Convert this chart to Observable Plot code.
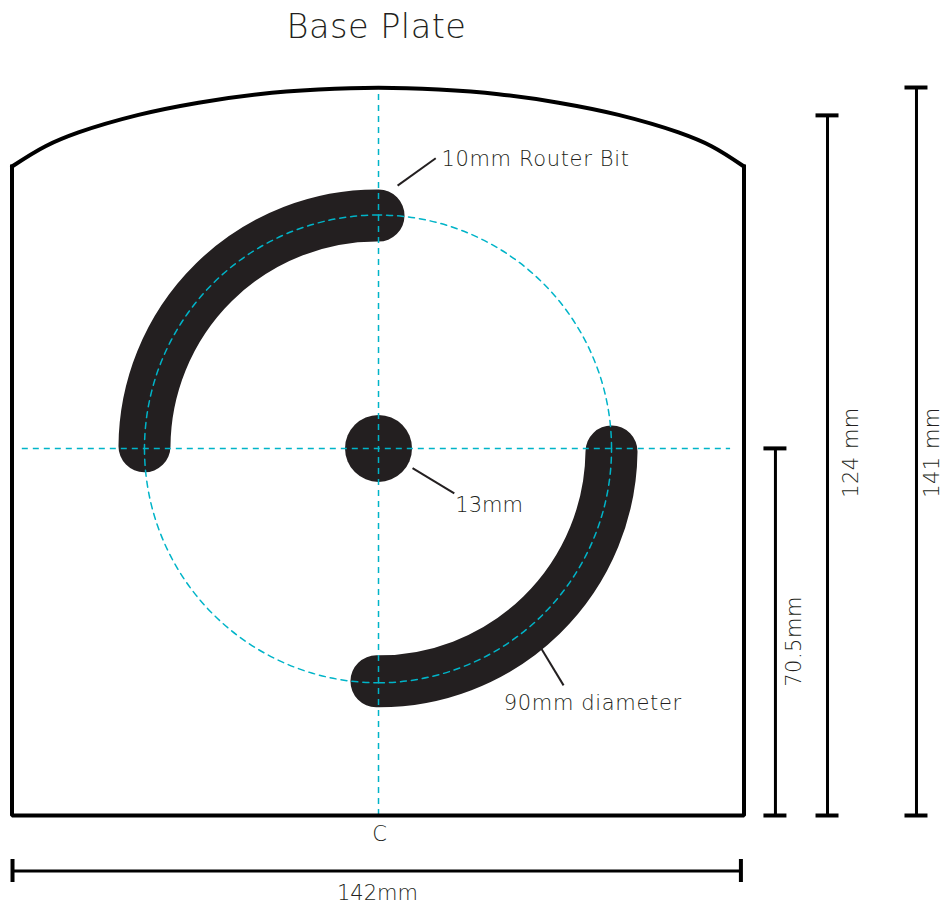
<!DOCTYPE html>
<html><head><meta charset="utf-8">
<script src="https://cdn.jsdelivr.net/npm/d3@7"></script>
<script src="https://cdn.jsdelivr.net/npm/@observablehq/plot@0.6"></script>
<style>html,body{margin:0;padding:0;background:#fff}svg{display:block}
.wide text{letter-spacing:.65px}.side text{letter-spacing:.5px}.head text{letter-spacing:.5px}</style>
</head><body><div id="chart"></div>
<script>
// All positions are millimetres on the drawing.
const crownX = [0, 6.5, 12.9, 24.54, 36.18, 47.82, 59.46, 71.1, 82.74, 94.38, 106.02, 117.66, 129.3, 135.7, 142];
const crownY = [125.7, 129.63, 132.3, 135.7, 138.06, 139.7, 140.6, 140.95, 140.6, 139.7, 138.06, 135.7, 132.3, 129.63, 125.7];
const wallX = [0, 0, 142, 142];
const wallY = [125.7, 0, 0, 125.7];

const centreX = [71.1];
const centreY = [71.1];

// Guide circle: quarter arcs between the four cardinal points.
const guideX1 = [116.3, 71.1, 25.7, 71.1];
const guideY1 = [71.1, 116.3, 71.1, 25.7];
const guideX2 = [71.1, 25.7, 71.1, 116.3];
const guideY2 = [116.3, 71.1, 25.7, 71.1];

// Router slots: start and end of each 90-degree arc.
const slotX1 = [71.1, 70.7];
const slotY1 = [116.2, 26.0];
const slotX2 = [25.7, 116.3];
const slotY2 = [71.5, 70.5];

const dimVerticalX = [175.46, 158.2, 148.1];
const dimVerticalTop = [141, 135.6, 71.1];
const capHalf = 2.23;
const dimHorizontalY = -10.75;
const dimHorizontalX = [0.1, 141.4];

const leaderX1 = [74.8, 77.7, 102.7];
const leaderY1 = [122.0, 67.3, 32.3];
const leaderX2 = [82.2, 85.8, 107];
const leaderY2 = [127.3, 62.4, 25.2];

const wideText = ["10mm Router Bit", "90mm diameter"];
const wideX = [83.3, 95.4];
const wideY = [127.1, 21.7];

const shortText = ["13mm"];
const shortX = [86.0];
const shortY = [60.0];

const centredText = ["C", "142mm"];
const centredX = [71.3, 70.9];
const centredY = [-3.7, -15.1];

const sideText = ["70.5mm", "124 mm", "141 mm"];
const sideX = [151.8, 162.9, 178.6];
const sideY = [33.7, 70.3, 70.3];

const pts = (xs, ys) => xs.map((x, i) => ({x, y: ys[i]}));
const ink = "#231f20", cyan = "#00b4c8";
const font = "'DejaVu Sans', Inter, sans-serif";

const dash = {stroke: cyan, strokeWidth: 1.5, strokeDasharray: "6,5"};
const arcOpts = (xa, ya, xb, yb) => ({
  x1: (d, i) => xa[i], y1: (d, i) => ya[i], x2: (d, i) => xb[i], y2: (d, i) => yb[i],
  bend: -45, headLength: 0
});
const label = {text: d => d, fontSize: 21, fontWeight: 200, fill: ink};

const plot = Plot.plot({
  width: 944, height: 904, margin: 0,
  x: {domain: [0, 142], range: [11.5, 743.5], axis: null},
  y: {domain: [0, 141], range: [815, 87], axis: null},
  style: {background: "#fff", fontFamily: font},
  marks: [
    Plot.arrow(slotX1, {...arcOpts(slotX1, slotY1, slotX2, slotY2), stroke: ink, strokeWidth: 52, strokeLinecap: "round"}),
    Plot.dot(pts(centreX, centreY), {x: "x", y: "y", r: 33.5, fill: ink}),
    Plot.arrow(guideX1, {...arcOpts(guideX1, guideY1, guideX2, guideY2), ...dash}),
    Plot.ruleX(centreX, {y1: 0, y2: 140.9, ...dash}),
    Plot.ruleY(centreY, {x1: 2, x2: 139.4, ...dash}),
    Plot.line(pts(crownX, crownY), {x: "x", y: "y", curve: "catmull-rom", stroke: "#000", strokeWidth: 4}),
    Plot.line(pts(wallX, wallY), {x: "x", y: "y", stroke: "#000", strokeWidth: 4, strokeLinejoin: "miter", strokeLinecap: "square"}),
    Plot.ruleX(dimVerticalX, {y1: 0, y2: (d, i) => dimVerticalTop[i], stroke: "#000", strokeWidth: 3}),
    Plot.ruleY(dimVerticalX.flatMap((x, i) => [{x, y: 0}, {x, y: dimVerticalTop[i]}]), {
      y: "y", x1: d => d.x - capHalf, x2: d => d.x + capHalf, stroke: "#000", strokeWidth: 4}),
    Plot.ruleY([dimHorizontalY], {x1: dimHorizontalX[0], x2: dimHorizontalX[1], stroke: "#000", strokeWidth: 3}),
    Plot.ruleX(dimHorizontalX, {y1: dimHorizontalY - capHalf, y2: dimHorizontalY + capHalf, stroke: "#000", strokeWidth: 4}),
    Plot.link(leaderX1, {x1: d => d, y1: (d, i) => leaderY1[i], x2: (d, i) => leaderX2[i], y2: (d, i) => leaderY2[i], stroke: ink, strokeWidth: 2}),
    Plot.text(["Base Plate"], {x: [70.7], y: [152.6], ...label, fontSize: 33.5, className: "head", textAnchor: "middle"}),
    Plot.text(wideText, {x: wideX, y: wideY, ...label, className: "wide", textAnchor: "start"}),
    Plot.text(shortText, {x: shortX, y: shortY, ...label, textAnchor: "start"}),
    Plot.text(centredText, {x: centredX, y: centredY, ...label, textAnchor: "middle"}),
    Plot.text(sideText, {x: sideX, y: sideY, ...label, className: "side", textAnchor: "middle", rotate: -90})
  ]
});
document.getElementById("chart").append(plot);
</script></body></html>
